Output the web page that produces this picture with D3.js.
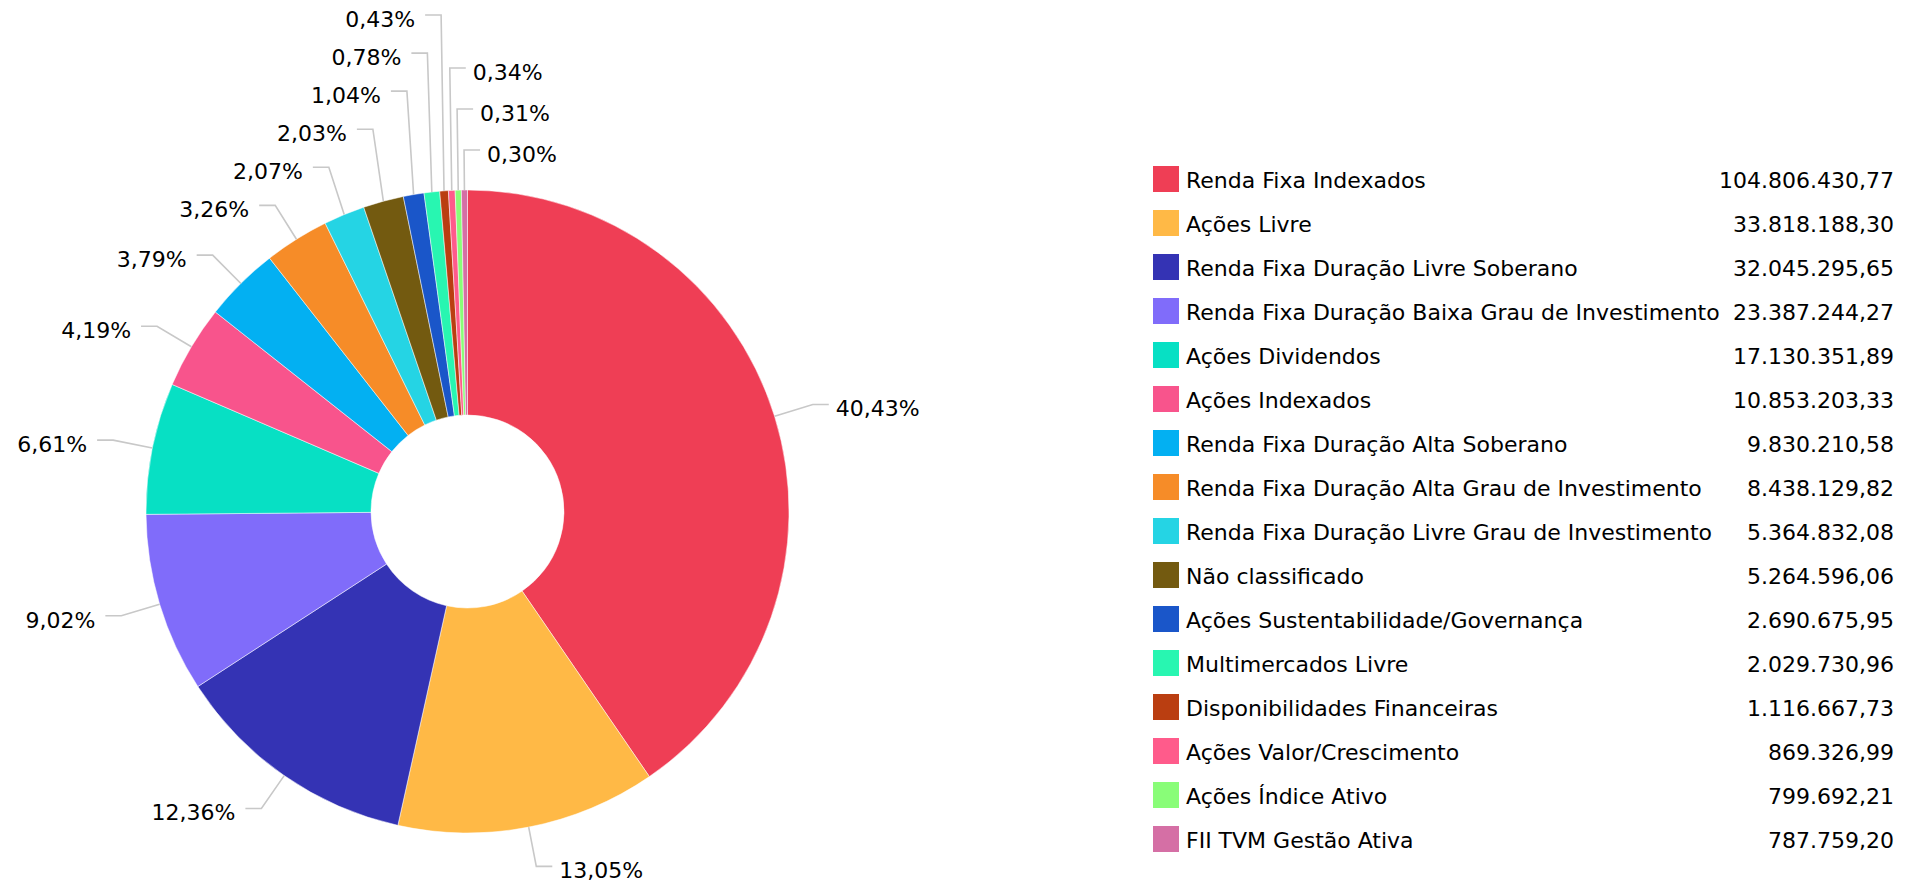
<!DOCTYPE html>
<html>
<head>
<meta charset="utf-8">
<script src="https://cdn.jsdelivr.net/npm/d3@7"></script>
<style>
  body { margin: 0; background: #fff; }
  svg { display: block; font-family: "DejaVu Sans", Verdana, sans-serif; }
</style>
</head>
<body>
<div id="chart"></div>
<script>
// categories in slice order (clockwise from 12 o'clock), same as legend order
const categories = [
  "Renda Fixa Indexados",
  "Ações Livre",
  "Renda Fixa Duração Livre Soberano",
  "Renda Fixa Duração Baixa Grau de Investimento",
  "Ações Dividendos",
  "Ações Indexados",
  "Renda Fixa Duração Alta Soberano",
  "Renda Fixa Duração Alta Grau de Investimento",
  "Renda Fixa Duração Livre Grau de Investimento",
  "Não classificado",
  "Ações Sustentabilidade/Governança",
  "Multimercados Livre",
  "Disponibilidades Financeiras",
  "Ações Valor/Crescimento",
  "Ações Índice Ativo",
  "FII TVM Gestão Ativa"
];

const values = [
  104806430.77, 33818188.30, 32045295.65, 23387244.27,
  17130351.89, 10853203.33, 9830210.58, 8438129.82,
  5364832.08, 5264596.06, 2690675.95, 2029730.96,
  1116667.73, 869326.99, 799692.21, 787759.20
];

const colors = [
  "#ef3e55", "#ffb946", "#3433b4", "#806cfa",
  "#07e0c4", "#f8548c", "#03b0f2", "#f68c28",
  "#25d4e4", "#735a10", "#1a56c9", "#28f6b1",
  "#ba3e11", "#ff5b8b", "#89fd78", "#d56fa5"
];

const width = 1921;
const height = 885;
const cx = 467.5, cy = 511.5;
const outerR = 321.5;
const innerR = 96.5;
const labelDist = 40;      // elbow distance outside the pie
const connLen = 16;        // horizontal part of the connector
const labelH = 41;         // min vertical spacing between labels
const labelTop = 15, labelBottom = 870;
const topBand = 3.5 * Math.PI / 180; // slices just left of 12 o'clock get right-side labels

const data = categories.map((c, i) => ({ name: c, value: values[i], color: colors[i] }));
const total = d3.sum(values);

const br = d3.formatLocale({ decimal: ",", thousands: ".", grouping: [3], currency: ["", ""] });
const fmtValue = br.format(",.2f");
const fmtPct = br.format(".2f");

const svg = d3.select("#chart").append("svg")
  .attr("width", width)
  .attr("height", height);

svg.append("rect").attr("width", width).attr("height", height).attr("fill", "#fff");

const pie = d3.pie().sort(null).value(d => d.value);
const arc = d3.arc().innerRadius(innerR).outerRadius(outerR);
const arcs = pie(data);

const chart = svg.append("g").attr("transform", `translate(${cx},${cy})`);

chart.selectAll("path.slice")
  .data(arcs)
  .enter()
  .append("path")
  .attr("class", "slice")
  .attr("d", arc)
  .attr("fill", d => d.data.color)
  .attr("stroke", "#fff")
  .attr("stroke-width", 0.5);

// label placement
const labels = arcs.map(a => {
  const mid = (a.startAngle + a.endAngle) / 2;
  const right = mid < Math.PI || mid > 2 * Math.PI - topBand;
  return {
    d: a,
    mid,
    right,
    order: right && mid > Math.PI ? mid - 2 * Math.PI : mid,
    touch: [outerR * Math.sin(mid), -outerR * Math.cos(mid)],
    ex: (outerR + labelDist) * Math.sin(mid),
    target: cy - (outerR + labelDist) * Math.cos(mid)
  };
});

function distribute(list) {
  const n = list.length;
  for (let i = n - 1; i >= 0; i--) {
    let y = list[i].target;
    if (i === n - 1) y = Math.min(y, labelBottom);
    else y = Math.min(y, list[i + 1].y - labelH);
    list[i].y = y;
  }
  if (n && list[0].y < labelTop) {
    let k = 0;
    while (k < n - 1 && list[k].y < list[k].target - 0.5) k++;
    if (k === 0) list[0].y = labelTop;
    else {
      const step = (list[k].y - labelTop) / k;
      for (let i = 0; i < k; i++) list[i].y = labelTop + i * step;
    }
  }
}

const rightSide = labels.filter(l => l.right).sort((a, b) => a.order - b.order);
const leftSide = labels.filter(l => !l.right).sort((a, b) => b.mid - a.mid);
distribute(rightSide);
distribute(leftSide);

const line = d3.line();
const labelG = chart.append("g");

labelG.selectAll("path.conn")
  .data(labels)
  .enter()
  .append("path")
  .attr("class", "conn")
  .attr("fill", "none")
  .attr("stroke", "#c8c8c8")
  .attr("stroke-width", 1.6)
  .attr("d", l => {
    const ly = l.y - cy;
    const end = l.right ? l.ex + connLen : l.ex - connLen;
    return line([l.touch, [l.ex, ly], [end, ly]]);
  });

labelG.selectAll("text.pct")
  .data(labels)
  .enter()
  .append("text")
  .attr("class", "pct")
  .attr("x", l => l.right ? l.ex + connLen + 7 : l.ex - connLen - 10)
  .attr("y", l => l.y - cy + 12)
  .attr("text-anchor", l => l.right ? "start" : "end")
  .style("font-size", "22px")
  .attr("fill", "#000")
  .text(l => fmtPct(l.d.data.value / total * 100) + "%");

// legend
const legendY = d3.scalePoint().domain(categories).range([179, 179 + 15 * 44]);
const legend = svg.append("g");

const rows = legend.selectAll("g.row")
  .data(data)
  .enter()
  .append("g")
  .attr("class", "row")
  .attr("transform", d => `translate(0,${legendY(d.name)})`);

rows.append("rect")
  .attr("x", 1153)
  .attr("y", -13)
  .attr("width", 26)
  .attr("height", 26)
  .attr("fill", d => d.color);

rows.append("text")
  .attr("x", 1186)
  .attr("y", 8.5)
  .style("font-size", "22px")
  .attr("fill", "#000")
  .text(d => d.name);

rows.append("text")
  .attr("x", 1894)
  .attr("y", 8.5)
  .attr("text-anchor", "end")
  .style("font-size", "22px")
  .attr("fill", "#000")
  .text(d => fmtValue(d.value));
</script>
</body>
</html>
